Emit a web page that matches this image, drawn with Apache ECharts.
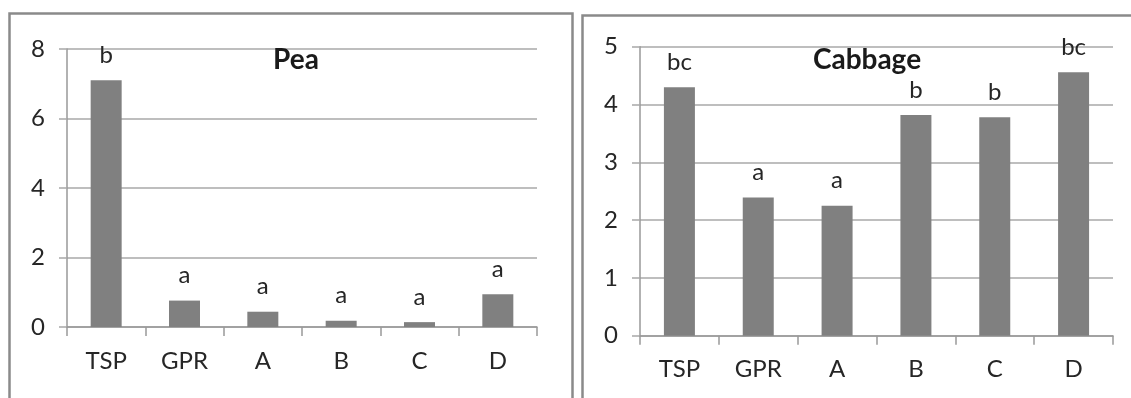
<!DOCTYPE html>
<html>
<head>
<meta charset="utf-8">
<script src="https://cdn.jsdelivr.net/npm/echarts@6/dist/echarts.min.js"></script>
<style>
html,body{margin:0;padding:0;background:#fff;}
#chart{width:1131px;height:398px;}
</style>
</head>
<body>
<div id="chart"></div>
<script>
const categories = ['TSP', 'GPR', 'A', 'B', 'C', 'D'];
const peaValues = [7.1, 0.76, 0.44, 0.18, 0.14, 0.94];
const peaLetters = ['b', 'a', 'a', 'a', 'a', 'a'];
const cabbageValues = [4.3, 2.39, 2.25, 3.82, 3.78, 4.56];
const cabbageLetters = ['bc', 'a', 'a', 'b', 'b', 'bc'];
const peaTicks = [0, 2, 4, 6, 8];
const cabbageTicks = [0, 1, 2, 3, 4, 5];

const FONT = 'Lato, "Open Sans", sans-serif';
const TXT = '#262626';
const GRIDC = '#a8a8a8';
const AXISC = '#999999';
const BARC = '#808080';

function xAxis(gi) {
  return {
    type: 'category', gridIndex: gi, data: categories,
    axisLine: {show: true, lineStyle: {color: AXISC, width: 1.5}},
    axisTick: {show: true, length: 9, lineStyle: {color: AXISC, width: 1.5}},
    axisLabel: {color: TXT, fontSize: 24, fontFamily: FONT, margin: 22}
  };
}
function yAxis(gi, ticks) {
  return {
    type: 'value', gridIndex: gi, min: ticks[0], max: ticks[ticks.length - 1],
    interval: ticks[1] - ticks[0],
    axisLine: {show: true, lineStyle: {color: AXISC, width: 1.5}},
    axisTick: {show: true, length: 8, lineStyle: {color: GRIDC, width: 1.5}},
    splitLine: {show: true, lineStyle: {color: GRIDC, width: 1.5}},
    axisLabel: {color: TXT, fontSize: 24, fontFamily: FONT, margin: 22}
  };
}
function bars(gi, values, letters) {
  return {
    type: 'bar', xAxisIndex: gi, yAxisIndex: gi, data: values, barWidth: 31,
    itemStyle: {color: BARC},
    label: {
      show: true, position: 'top', distance: 13,
      color: TXT, fontSize: 24, fontFamily: FONT,
      formatter: p => letters[p.dataIndex]
    }
  };
}

const chart = echarts.init(document.getElementById('chart'), null, {renderer: 'canvas'});
chart.setOption({
  backgroundColor: '#ffffff',
  animation: false,
  title: [
    {text: 'Pea', left: 291, top: 55, textAlign: 'center', textVerticalAlign: 'middle',
     textStyle: {fontSize: 28, fontWeight: 'bold', fontFamily: FONT, color: '#1a1a1a'}},
    {text: 'Cabbage', left: 862, top: 55, textAlign: 'center', textVerticalAlign: 'middle',
     textStyle: {fontSize: 28, fontWeight: 'bold', fontFamily: FONT, color: '#1a1a1a'}}
  ],
  graphic: [
    {type: 'rect', shape: {x: 9.5, y: 13.5, width: 563, height: 400}, style: {fill: 'none', stroke: '#8a8a8a', lineWidth: 2.5}, z: -1},
    {type: 'rect', shape: {x: 582.5, y: 15.5, width: 560, height: 400}, style: {fill: 'none', stroke: '#8a8a8a', lineWidth: 2.5}, z: -1}
  ],
  grid: [
    {left: 67, right: 594, top: 49, bottom: 71},
    {left: 640, right: 18, top: 46.7, bottom: 62.3}
  ],
  xAxis: [xAxis(0), xAxis(1)],
  yAxis: [yAxis(0, peaTicks), yAxis(1, cabbageTicks)],
  series: [bars(0, peaValues, peaLetters), bars(1, cabbageValues, cabbageLetters)]
});
</script>
</body>
</html>
